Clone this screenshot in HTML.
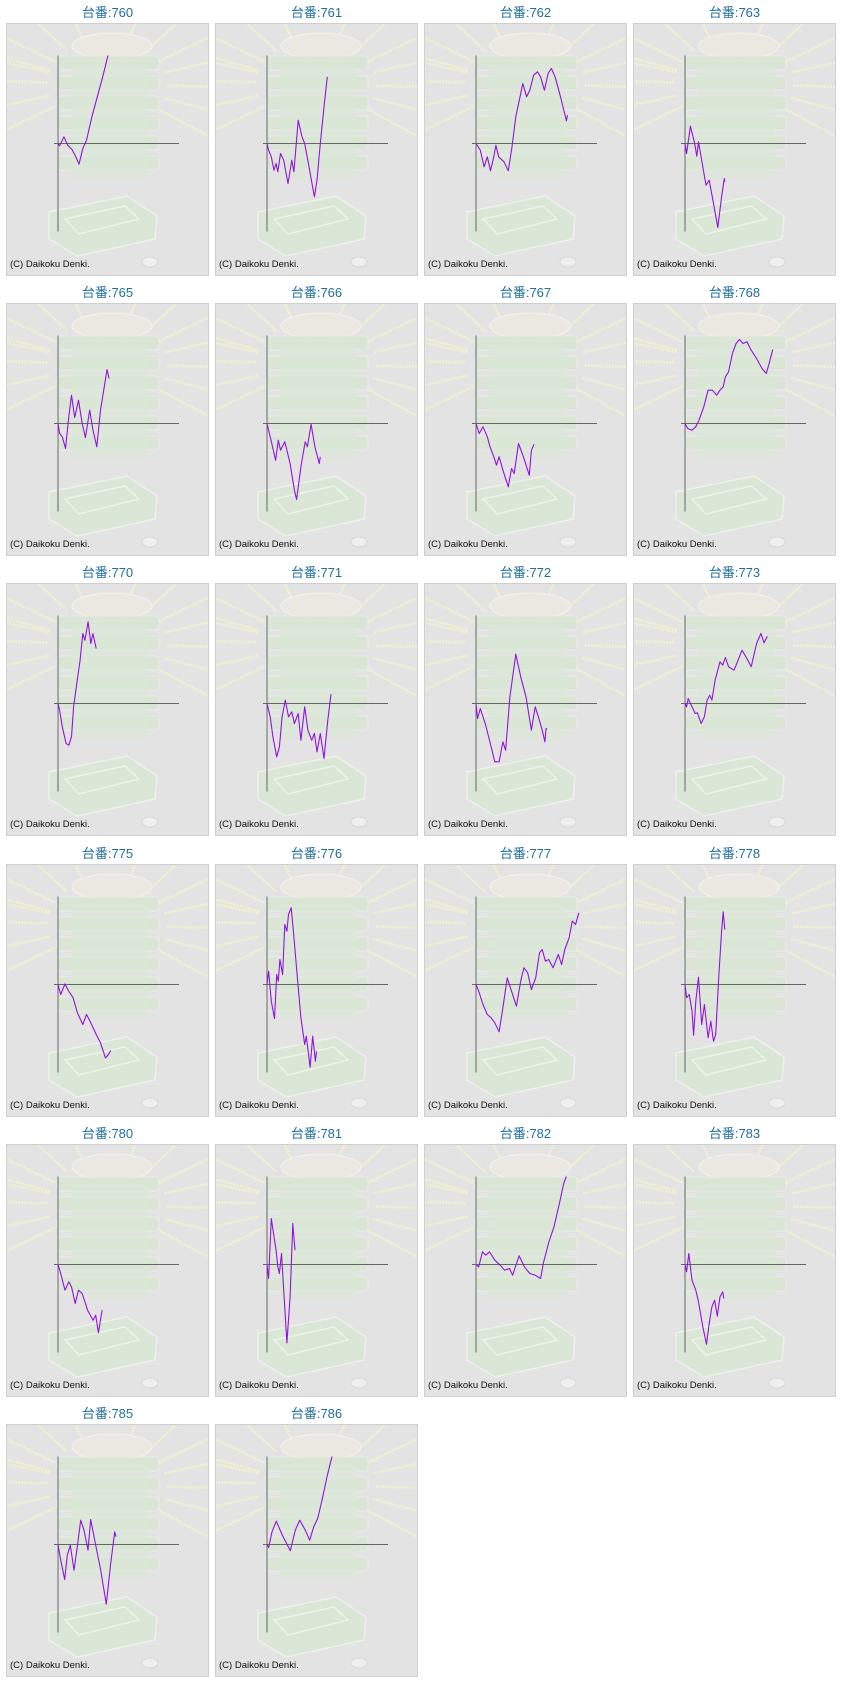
<!DOCTYPE html>
<html><head><meta charset="utf-8">
<style>
html,body{margin:0;padding:0;background:#fff;}
body{width:844px;height:1683px;position:relative;overflow:hidden;font-family:"Liberation Sans","Noto Sans CJK JP",sans-serif;}
.title{position:absolute;width:203px;text-align:center;font-size:13px;color:#1f6f9f;line-height:16px;}
.cell{position:absolute;width:201px;height:251px;border:1px solid #cfcfcf;background:#e3e3e3;}
.cell svg{position:absolute;left:0;top:0;}
</style></head>
<body>
<div id="root"></div>
<script>
// Machine numbers
const machines=[760,761,762,763,765,766,767,768,770,771,772,773,775,776,777,778,780,781,782,783,785,786];
// Each series: x = games (axis units 0..121), y = difference (axis units -88..88)
const x760=[0,1.6,5.9,9.7,14,17.8,21,24.8,28.5,33.9,39.3,44.7,50];
const y760=[0,-2.3,6.7,-1.7,-6,-13.3,-20.7,-5,3.3,26.7,46.7,66.7,88];
const x761=[0,1.6,4.3,7,9.1,10.8,13.5,16.7,21,24.8,26.9,31.2,35,37.7,42,47.4,50,53.3,57,60.3];
const y761=[0,-6.7,-13.3,-26.7,-20,-28.3,-10,-16.7,-40,-16.7,-28.3,23.3,6.7,0,-23.3,-53.3,-36.7,0,36.7,66.7];
const x762=[0,4.3,8.1,11.3,14.5,17.8,19.9,22.6,28,32.3,36,39.8,46.8,50.6,53.8,57.6,61.4,64.6,68.4,72.1,75.4,79.1,84.5,90.4,91.5];
const y762=[0,-6.7,-23.3,-13.3,-27.3,-13.3,-1.7,-13.3,-18.3,-27.3,-3.3,26.7,60,46.7,53.3,68.3,71.7,66.7,53.3,70,75,66.7,46.7,22.7,28.3];
const x763=[0,1.6,5.4,9.7,11.8,13.5,17.8,21,24.2,28.5,32.8,36.6,39.3,39.8];
const y763=[0,-10,17.3,0,-12.7,1.7,-23.3,-41.7,-36.7,-60,-84,-53.3,-35,-38.3];
const x765=[0,1.6,4.3,7.5,10.8,13.5,16.7,20.5,24.2,27.4,31.7,35,38.8,42.5,46.8,49,51.1];
const y765=[0,-10,-13.3,-25,6.7,28.3,6,23.3,0,-14,13.3,-6.7,-23.3,13.3,40,54,45];
const x766=[0,3.2,8.6,11.3,13.5,17.8,23.1,27.4,29.6,33.9,38.2,40.4,44.1,47.9,52.2,53.3];
const y766=[0,-13.3,-36.7,-16.7,-26.7,-18.3,-40,-66.7,-76,-43.3,-18.3,-23.3,-0.7,-23.3,-40,-33.3];
const x767=[0,3.2,7,11.3,14,17.8,20.5,23.1,26.9,32.3,35.5,38.2,42.5,47.4,53.3,55.4,58.1];
const y767=[0,-10,-3.3,-13.3,-23.3,-33.3,-41.7,-33.3,-46.7,-63.3,-45,-50,-20,-33.3,-51.7,-26.7,-20.7];
const x768=[0,2.7,7,10.8,14,18.8,23.1,27.4,31.7,34.9,38.2,40.4,43.6,47.4,51.1,54.4,58.1,61.9,66.2,71.6,77,81.3,85,87.7];
const y768=[0,-5,-6.7,-3.3,3.3,16.7,33.3,33.3,28.3,33.3,36.7,46.7,51.7,70,80,84,80,81.7,73.3,65,55,50,63.3,74];
const x770=[0,1.6,4.3,8.1,10.8,13.5,15.6,18.8,22.1,24.8,26.9,30.1,32.8,34.9,38.2];
const y770=[0,-6.7,-23.3,-40,-41.7,-33.3,-3.3,20,43.3,70,63.3,81.7,60,70,55];
const x771=[0,3.2,5.9,9.7,12.4,15.1,18.3,21.5,24.8,27.4,31.2,33.9,37.7,40.9,44.7,47.4,50,53.3,57,60.8,64];
const y771=[0,-13.3,-33.3,-53.3,-43.3,-13.3,3.3,-13.3,-8.3,-20,-10,-36.7,-3.3,-26.7,-36.7,-30,-48.3,-30,-55,-16.7,9.3];
const x772=[0,1.6,4.3,9.7,13.5,18.8,23.1,26.9,29.6,33.9,39.8,44.7,50,55.4,59.2,62.4,66.2,68.9,70,71];
const y772=[0,-15,-5,-21.7,-36.7,-58.3,-58.3,-38.3,-46.7,6.7,49.3,26.7,6.7,-26.7,-3.3,-13.3,-26.7,-38.3,-25,-26];
const x773=[0,1.6,3.2,7,10.2,12.4,16.1,19.4,22.1,24.8,26.9,30.1,35,37.7,40.4,43.6,49,51.1,57,61.9,66.2,71.6,75.9,79.1,82.3];
const y773=[0,-3.3,5,-3.3,-10,-9.3,-20,-13.3,3.3,8.3,3.3,23.3,41.7,38.3,46,36.7,33.3,38.3,53.3,45,36.7,60,70,60.7,67.3];
const x775=[0,2.7,7,9.7,15.1,19.4,24.8,28.5,32.8,38.2,42.5,47.4,50,52.7];
const y775=[0,-10,0.7,-5,-13.3,-28.3,-40,-30,-38.3,-50,-58.3,-73.3,-70.7,-66];
const x776=[0,1.6,4.3,7.5,9.7,11.3,12.9,15.6,17.8,19.9,21.5,24.2,26.4,30.1,33.9,37.7,39.3,43.1,45.7,48.4,49.5];
const y776=[0,13.3,-16.7,-34,10,3.3,25,10,60,53.3,70,76.7,53.3,10,-33.3,-60,-51.7,-82.7,-51.7,-76.7,-66.7];
const x777=[0,2.7,7,11.3,15.1,18.8,23.1,26.9,31.2,33.9,37.7,40.4,44.7,47.9,51.7,55.4,59.7,63.5,66.2,69.4,72.7,77,82.3,85.6,88.8,93.1,96.3,99.6,102.8];
const y777=[0,-6.7,-20,-30,-33.3,-38.3,-47.3,-23.3,6.7,-1.7,-13.3,-21.7,3.3,16.7,11.7,-5,6.7,31.7,35,23.3,25,16.7,30,20,35,46.7,63.3,60,71.7];
const x778=[0,1.6,4.3,7,8.6,10.8,13.5,16.7,19.4,23.1,25.8,28.5,30.7,33.9,36.6,38.2,39.8];
const y778=[0,-13.3,-10,-26.7,-50.7,-16.7,7.3,-40,-20,-53.3,-36.7,-56.7,-50,10,53.3,72.7,55];
const x780=[0,2.7,7,10.8,13.5,17.2,20.5,24.2,29.6,35,37.7,40.4,44.1];
const y780=[0,-9,-25.7,-17.3,-22.3,-39,-25.7,-29,-45.7,-55.7,-50.7,-68.3,-45.7];
const x781=[0,1.6,4.3,7,9.1,10.8,12.4,14.5,19.9,23.1,25.8,28];
const y781=[0,-14,46,27.7,14.3,-2.3,-9,11,-78.3,-32.3,41,14.3];
const x782=[0,2.7,6.5,9.7,13.5,18.8,24.2,28.5,33.4,36.6,43.1,48.4,53.8,59.2,64.6,67.3,72.7,78,83.4,87.7,90.4];
const y782=[0,-2.3,12.7,9.3,12.7,4.3,-0.7,-5.7,-4,-10.7,8.7,-2.3,-9,-10.7,-14,1,22,37.7,61,81,88];
const x783=[0,1.6,3.8,7,10.8,13.5,17.8,21.5,24.2,26.9,29.6,32.3,35,37.7,38.8];
const y783=[0,-7.3,11,-15.7,-25.7,-37.3,-62.3,-79.7,-59,-42.3,-35.7,-51.7,-32.3,-27.3,-34];
const x785=[0,2.7,6.7,9.3,12.3,16,19.3,22.7,26,30,32.7,36.7,42.7,48.3,52.7,56.7,58];
const y785=[0,-15.7,-35,-10.7,-0.7,-25.7,-2.3,24.3,14.3,-5.7,25,4.3,-25.7,-59.7,-19,12.7,7.7];
const x786=[0,1.7,5,9.3,15,23.3,28.3,32.7,38.3,42.7,46.7,50.7,55,60,65];
const y786=[0,-3,12.7,23.3,10,-6.3,14.3,24.3,14.3,4.3,17.7,26,44.3,67.7,88];
const seriesX={760:x760,761:x761,762:x762,763:x763,765:x765,766:x766,767:x767,768:x768,770:x770,771:x771,772:x772,773:x773,775:x775,776:x776,777:x777,778:x778,780:x780,781:x781,782:x782,783:x783,785:x785,786:x786};
const seriesY={760:y760,761:y761,762:y762,763:y763,765:y765,766:y766,767:y767,768:y768,770:y770,771:y771,772:y772,773:y773,775:y775,776:y776,777:y777,778:y778,780:y780,781:y781,782:y782,783:y783,785:y785,786:y786};

const NS='http://www.w3.org/2000/svg';
const root=document.getElementById('root');
const AX=51, ZY=119.5;
function sx(v){return AX+v;}
function sy(v){return ZY-v;}
function mk(tag,attrs){const e=document.createElementNS(NS,tag);for(const k in attrs)e.setAttribute(k,attrs[k]);return e;}

function background(svg){
  const g=mk('g',{});
  
  
  const cx=100,cy=60;
  const angs=[-165,-150,-132,-112,-70,-48,-30,-15,2,18,33,150,165,182,198];
  angs.forEach(a=>{const r=a*Math.PI/180;
    g.appendChild(mk('line',{x1:cx+Math.cos(r)*60,y1:cy+Math.sin(r)*45,x2:cx+Math.cos(r)*120,y2:cy+Math.sin(r)*95,stroke:'#f1f1cf','stroke-width':2.5,'stroke-dasharray':'2 1'}));});
  g.appendChild(mk('ellipse',{cx:105,cy:22,rx:40,ry:13,fill:'#ebe8e2',stroke:'#f4f2ee'}));
  for(let i=0;i<6;i++){
    g.appendChild(mk('rect',{x:50,y:32+i*20,width:102,height:14,rx:3,fill:'#d9e6d4',stroke:'#e8efe5','stroke-width':1,opacity:0.85}));
  }
  g.appendChild(mk('rect',{x:64,y:40,width:76,height:115,fill:'#dae7d5',opacity:0.6}));
  g.appendChild(mk('polygon',{points:'42,188 120,172 150,192 148,215 70,232 42,215',fill:'#dae7d5',stroke:'#edf3ea','stroke-width':1.5,opacity:0.9}));
  g.appendChild(mk('polygon',{points:'58,195 118,182 132,195 72,210',fill:'none',stroke:'#edf3ea','stroke-width':1.5}));
  g.appendChild(mk('ellipse',{cx:143,cy:238,rx:8,ry:5,fill:'#efefef',stroke:'#d8d8d8'}));
  svg.appendChild(g);
}

machines.forEach((m,i)=>{
  const c=i%4,r=Math.floor(i/4);
  const left=6+209*c, top=Math.round(23+280.2*r);
  const t=document.createElement('div');
  t.className='title';
  t.style.left=left+'px';t.style.top=(top-18)+'px';
  t.textContent='台番:'+m;
  
  
  root.appendChild(t);
  const cell=document.createElement('div');
  cell.className='cell';
  cell.style.left=left+'px';cell.style.top=top+'px';
  
  
  const svg=mk('svg',{width:201,height:251,viewBox:'0 0 201 251'});
  background(svg);
  const xa=mk('line',{x1:sx(-4),y1:sy(0),x2:sx(121),y2:sy(0),stroke:'#666','stroke-width':1});
  
  
  svg.appendChild(xa);
  const ya=mk('line',{x1:sx(0),y1:sy(88),x2:sx(0),y2:sy(-88),stroke:'#666','stroke-width':1});
  
  
  svg.appendChild(ya);
  const xs=seriesX[m],ys=seriesY[m];
  const pts=xs.map((v,k)=>sx(v).toFixed(1)+','+sy(ys[k]).toFixed(1)).join(' ');
  const pl=mk('polyline',{points:pts,fill:'none',stroke:'#9312e0','stroke-width':1.1,'stroke-linejoin':'round'});
  
  
  svg.appendChild(pl);
  const tx=mk('text',{x:3,y:243,'font-size':9.5,fill:'#111','font-family':'Liberation Sans, sans-serif'});
  tx.textContent='(C) Daikoku Denki.';
  
  
  svg.appendChild(tx);
  cell.appendChild(svg);
  root.appendChild(cell);
});
</script>
</body></html>
